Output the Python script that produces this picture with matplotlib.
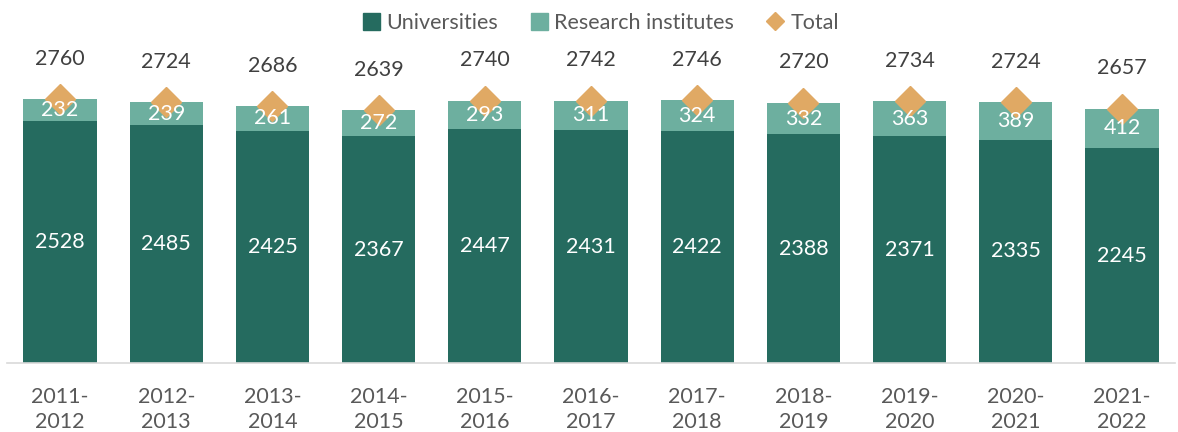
import matplotlib
matplotlib.use("Agg")
import matplotlib.pyplot as plt
from matplotlib.lines import Line2D
from matplotlib.patches import Patch
import numpy as np

years = ["2011-\n2012", "2012-\n2013", "2013-\n2014", "2014-\n2015", "2015-\n2016",
         "2016-\n2017", "2017-\n2018", "2018-\n2019", "2019-\n2020", "2020-\n2021", "2021-\n2022"]
universities = [2528, 2485, 2425, 2367, 2447, 2431, 2422, 2388, 2371, 2335, 2245]
research = [232, 239, 261, 272, 293, 311, 324, 332, 363, 389, 412]
total = [2760, 2724, 2686, 2639, 2740, 2742, 2746, 2720, 2734, 2724, 2657]

plt.rcParams['font.family'] = ['Lato', 'DejaVu Sans']

C_UNI = "#256B5F"
C_RES = "#6DAF9F"
C_TOT = "#E0A964"
C_TXT = "#404040"
C_LEG = "#595959"
FS = 15.5

fig = plt.figure(figsize=(11.78, 4.32), dpi=100)
ax = fig.add_axes([7/1178, 69/432, 1168/1178, 323/432])

x = np.arange(len(years))
w = 0.69
ax.bar(x, universities, width=w, color=C_UNI, zorder=2)
ax.bar(x, research, width=w, bottom=universities, color=C_RES, zorder=2)
ax.plot(x, total, linestyle="none", marker="D", markersize=15.5, color=C_TOT, zorder=3)

for i in range(len(years)):
    ax.text(x[i], universities[i] / 2, str(universities[i]), ha="center", va="center",
            color="white", fontsize=FS, zorder=4)
    ax.text(x[i], universities[i] + research[i] / 2, str(research[i]), ha="center", va="center",
            color="white", fontsize=FS, zorder=4)
    ax.annotate(str(total[i]), (x[i], total[i]), xytext=(0, 29), textcoords="offset points",
                ha="center", va="center", color=C_TXT, fontsize=FS, zorder=4)

ax.set_xlim(-0.5, len(years) - 0.5)
ax.set_ylim(0, 3375)
ax.set_xticks(x)
ax.set_xticklabels(years, fontsize=FS, color=C_LEG, linespacing=1.35)
ax.tick_params(axis="x", length=0, pad=17)
ax.set_yticks([])
for s in ["top", "right", "left"]:
    ax.spines[s].set_visible(False)
ax.spines["bottom"].set_color("#D9D9D9")
ax.spines["bottom"].set_linewidth(1.2)

handles = [Patch(color=C_UNI, label="Universities"),
           Patch(color=C_RES, label="Research institutes"),
           Line2D([], [], linestyle="none", marker="D", color=C_TOT, markersize=9, label="Total")]
fig.legend(handles=handles, loc="center", bbox_to_anchor=(0.51, 1 - 23/432), ncol=3,
           frameon=False, fontsize=FS, labelcolor=C_LEG, handlelength=0.8, handleheight=0.8,
           handletextpad=0.3, columnspacing=1.5)

fig.savefig("out.png", dpi=100)
